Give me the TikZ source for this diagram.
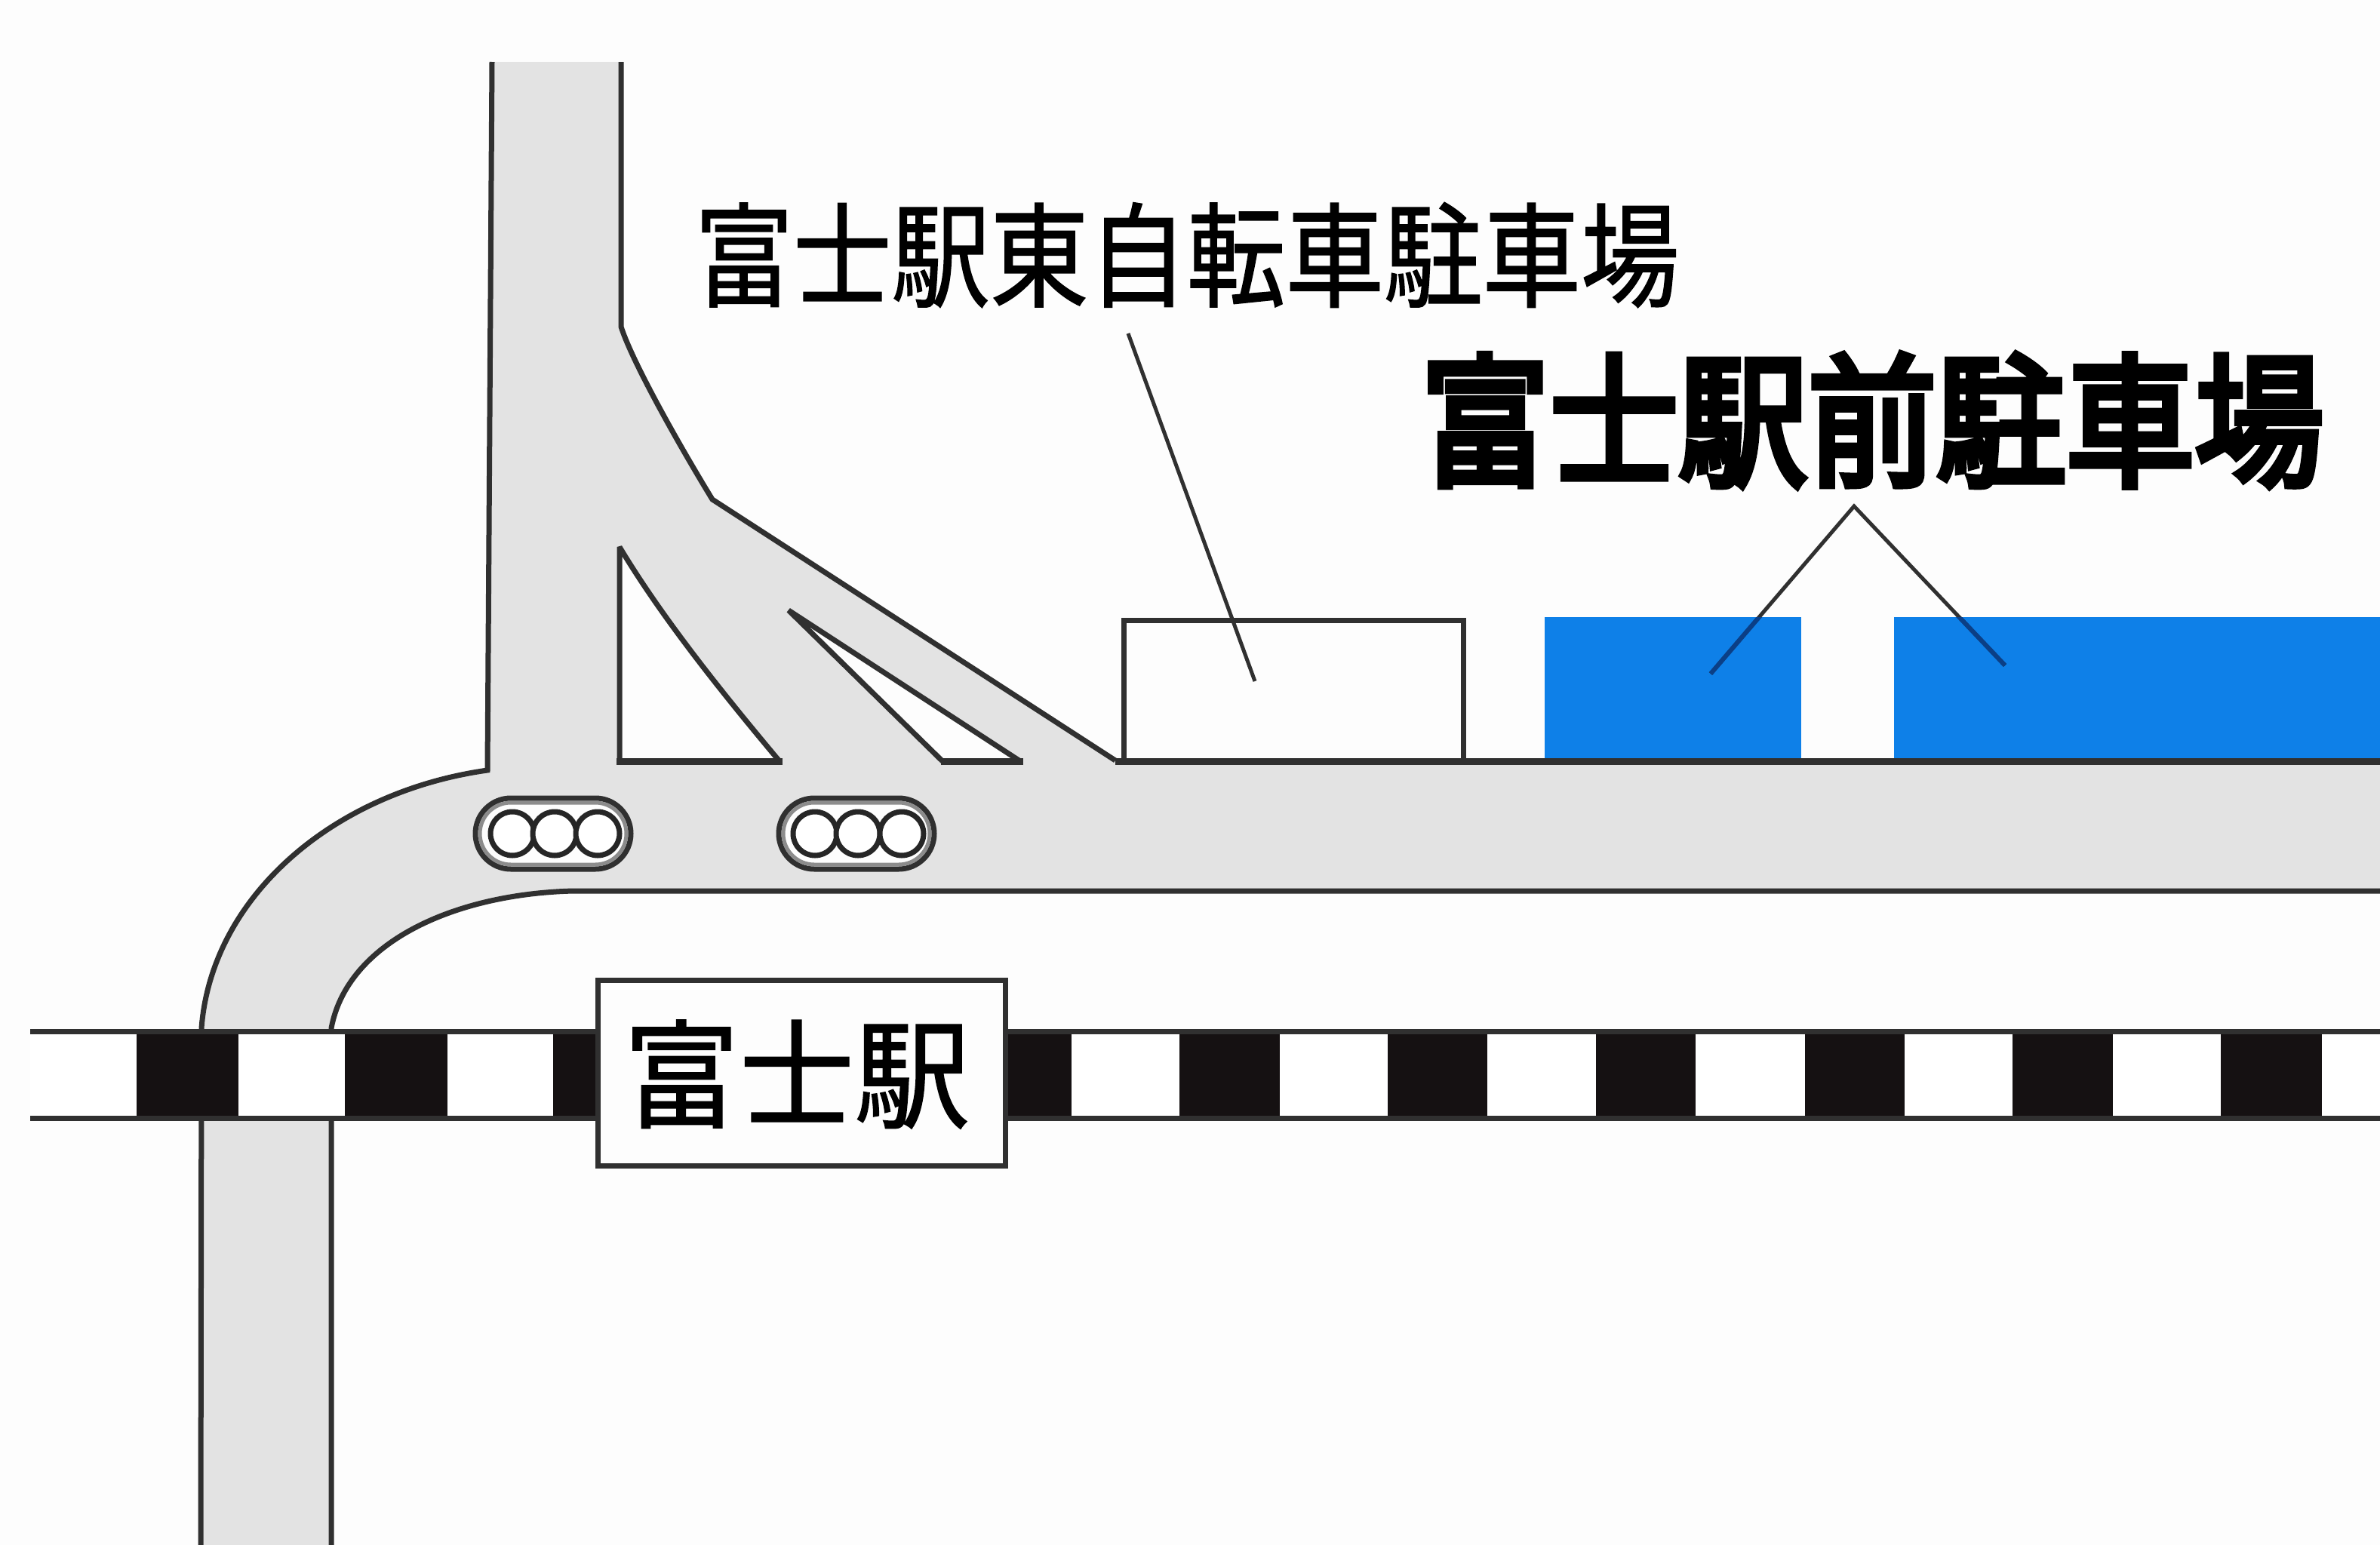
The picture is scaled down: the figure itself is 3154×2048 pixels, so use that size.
\documentclass[tikz,border=0pt]{standalone}
\usepackage{fontspec}
\usetikzlibrary{shapes.misc}
\newfontfamily\cjk{Noto Sans CJK JP}
\newfontfamily\cjkmid[FakeBold=1.2]{Noto Sans CJK JP}
\newfontfamily\cjkheavy[FakeBold=5]{Noto Sans CJK JP}
\definecolor{paper}{HTML}{FDFDFD}
\definecolor{roadgray}{HTML}{E3E3E3}
\definecolor{ink}{HTML}{303030}
\definecolor{railblack}{HTML}{151112}
\definecolor{lotblue}{HTML}{0E80E8}
\definecolor{navy}{HTML}{0B3F86}
\tikzset{
  edge/.style={draw=ink,line width=7pt,line join=miter},
  thick edge/.style={draw=ink,line width=9pt},
  leader/.style={draw=ink,line width=5pt},
  leader on blue/.style={draw=navy,line width=6pt},
  railline/.style={draw=ink,line width=7pt},
  tie/.style={fill=railblack,draw=none},
  lot/.style={fill=lotblue,draw=none},
  signal/.style={rounded rectangle,draw=ink,line width=7pt,fill=paper,minimum width=206pt,minimum height=94pt,inner sep=0pt},
  signalinner/.style={rounded rectangle,draw=gray!90,line width=5pt,minimum width=194pt,minimum height=82pt,inner sep=0pt},
  lamp/.style={circle,draw=ink!80!black,line width=7pt,fill=white,minimum size=58pt,inner sep=0pt},
  label/.style={inner sep=0pt,font=\cjk}
}
\begin{document}
\begin{tikzpicture}[x=1pt,y=-1pt]
\useasboundingbox (0,0) rectangle (3154,2048);
\fill[paper] (0,0) rectangle (3154,2048);
% road surface
\fill[roadgray] (652,82) -- (646,1021) .. controls (440,1050) and (280,1190) .. (267,1363)
  -- (266,2048) -- (439,2048) -- (439,1363) .. controls (460,1250) and (600,1185) .. (760,1181)
  -- (3154,1181) -- (3154,1010) -- (1478,1008) -- (944,662) .. controls (900,590) and (838,480) .. (823,433) -- (823,82) -- cycle;
% islands
\fill[paper] (821,725) .. controls (875,815) and (950,910) .. (1033,1009) -- (821,1009) -- cycle;
\fill[paper] (1045,809) -- (1352,1009) -- (1249,1009) -- cycle;
% parking lots and bicycle parking
\fill[lot] (2047,818) rectangle (2387,1008);
\fill[lot] (2510,818) rectangle (3154,1008);
\filldraw[edge,fill=paper] (1489,1010) -- (1489,822) -- (1939,822) -- (1939,1010);
% road outlines
\draw[edge] (652,82) -- (646,1021) .. controls (440,1050) and (280,1190) .. (267,1363) -- (266,2048);
\draw[edge] (439,2048) -- (439,1363) .. controls (460,1250) and (600,1185) .. (760,1181) -- (3154,1181);
\draw[edge] (823,82) -- (823,433) .. controls (838,480) and (900,590) .. (944,662) -- (1478,1008);
\draw[thick edge] (1478,1009) -- (3154,1009);
% island outlines
\draw[edge,line join=miter,miter limit=3] (821,1009) -- (821,725) .. controls (875,815) and (950,910) .. (1033,1009);
\draw[thick edge] (817,1009) -- (1037,1009);
\draw[edge] (1249,1009) -- (1045,809) -- (1352,1009);
\draw[thick edge] (1247,1009) -- (1356,1009);
% railway
\fill[white] (40,1367) rectangle (3154,1482);
\foreach \a/\b in {181/316,457/593,733/800,1330/1420,1563/1696,1839/1971,2115/2247,2392/2524,2667/2800,2943/3077}
  \fill[tie] (\a,1367) rectangle (\b,1482);
\draw[railline] (40,1367) -- (3154,1367);
\draw[railline] (40,1482) -- (3154,1482);
% station
\node[draw=ink,line width=7pt,fill=paper,minimum width=540pt,minimum height=246pt,inner sep=0pt] (station) at (1062,1422) {};
\node[inner sep=0pt,font=\cjkmid\fontsize{156}{156}\selectfont,xscale=.98] (stationname) at (1056,1424) {富士駅};
% signals
\node[signal] (sigA) at (733,1105) {};
\node[signalinner] (sigAin) at (733,1105) {};
\node[lamp] (a1) at (679,1105) {};
\node[lamp] (a2) at (735,1105) {};
\node[lamp] (a3) at (792,1105) {};
\node[signal] (sigB) at (1135,1105) {};
\node[signalinner] (sigBin) at (1135,1105) {};
\node[lamp] (b1) at (1080,1105) {};
\node[lamp] (b2) at (1137,1105) {};
\node[lamp] (b3) at (1195,1105) {};
% labels
\node[inner sep=0pt,font=\cjkmid\fontsize{150}{150}\selectfont,xscale=.87] (bikelabel) at (1573,338) {富士駅東自転車駐車場};
\node[inner sep=0pt,font=\cjkheavy\fontsize{190}{190}\selectfont,xscale=.90] (parklabel) at (2481,557) {富士駅前駐車場};
% leaders
\coordinate (bikeS) at (1495,442);
\coordinate (bikeE) at (1663,903);
\coordinate (apex) at (2457,671);
\coordinate (lotA) at (2267,893);
\coordinate (lotB) at (2657,882);
\draw[leader] (bikeS) -- (bikeE);
\draw[leader] (lotA) -- (apex) -- (lotB);
\begin{scope}
\clip (2047,818) rectangle (3154,1008);
\draw[leader on blue] (lotA) -- (apex) -- (lotB);
\end{scope}
\end{tikzpicture}
\end{document}
